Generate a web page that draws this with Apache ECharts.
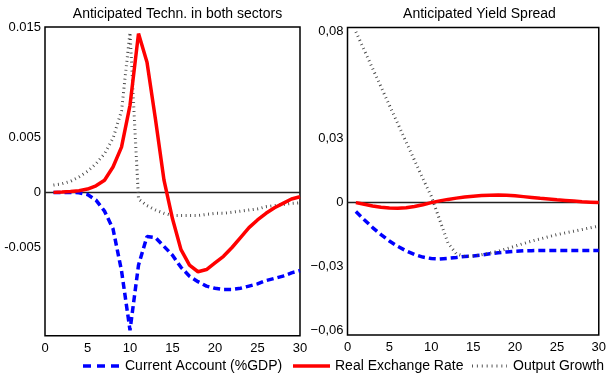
<!DOCTYPE html>
<html>
<head>
<meta charset="utf-8">
<script src="https://cdn.jsdelivr.net/npm/echarts@6/dist/echarts.min.js"></script>
<style>
  html, body { margin: 0; padding: 0; background: #fff; }
  #chart { width: 609px; height: 377px; }
</style>
</head>
<body>
<div id="chart"></div>
<script>
// Horizon (periods after the shock)
const periods = [1, 2, 3, 4, 5, 6, 7, 8, 9, 10, 11, 12, 13, 14, 15, 16, 17, 18, 19, 20, 21, 22, 23, 24, 25, 26, 27, 28, 29, 30];

// Panel 1: anticipated technology shock in both sectors
const techCurrentAccount = [0, 0, 0, -0.00003, -0.0002, -0.0007, -0.0017, -0.0033, -0.0071, -0.0125,
  -0.0066, -0.0040, -0.0041, -0.0049, -0.0057, -0.0068, -0.0076, -0.0081, -0.0085, -0.0087,
  -0.0088, -0.0088, -0.0087, -0.0085, -0.0083, -0.0080, -0.0078, -0.0076, -0.0073, -0.0071];
const techRealExchange = [0, 0.00003, 0.00008, 0.00015, 0.0003, 0.0006, 0.0011, 0.0023, 0.0041, 0.0079,
  0.0144, 0.0118, 0.0066, 0.0011, -0.0024, -0.0052, -0.0066, -0.0072, -0.0070, -0.0064,
  -0.0058, -0.0050, -0.0041, -0.0032, -0.0025, -0.0019, -0.0014, -0.0010, -0.0006, -0.0004];
const techOutputGrowth = [0.00066, 0.00078, 0.0010, 0.0014, 0.0019, 0.0026, 0.0035, 0.0049, 0.0074, 0.0145,
  -0.0006, -0.0012, -0.0016, -0.0019, -0.0021, -0.0021, -0.0021, -0.0021, -0.0020, -0.0019,
  -0.0019, -0.0018, -0.0017, -0.0016, -0.0015, -0.0013, -0.0012, -0.0011, -0.0010, -0.00095];

// Panel 2: anticipated yield spread shock
const spreadCurrentAccount = [-0.0042, -0.0080, -0.0117, -0.0150, -0.0180, -0.0205, -0.0226, -0.0243, -0.0255, -0.0262,
  -0.0264, -0.0261, -0.0257, -0.0252, -0.0250, -0.0246, -0.0240, -0.0235, -0.0231, -0.0228,
  -0.0226, -0.0225, -0.0224, -0.0224, -0.0224, -0.0224, -0.0224, -0.0224, -0.0224, -0.0224];
const spreadRealExchange = [0, -0.0008, -0.0016, -0.0022, -0.0025, -0.0026, -0.0024, -0.0018, -0.0010, 0.0000,
  0.0008, 0.0015, 0.0021, 0.0026, 0.0030, 0.0033, 0.0035, 0.0036, 0.0035, 0.0032,
  0.0028, 0.0024, 0.0020, 0.0017, 0.0013, 0.0010, 0.0007, 0.0004, 0.0002, 0.0000];
const spreadOutputGrowth = [0.0800, 0.0714, 0.0628, 0.0542, 0.0456, 0.0370, 0.0284, 0.0198, 0.0112, 0.0030,
  -0.0080, -0.0190, -0.0240, -0.0252, -0.0250, -0.0244, -0.0236, -0.0228, -0.0216, -0.0204,
  -0.0192, -0.0180, -0.0170, -0.0160, -0.0150, -0.0142, -0.0134, -0.0126, -0.0118, -0.0110];

// Axis ticks and their printed labels
const xTicks = [0, 5, 10, 15, 20, 25, 30];
const leftTickValues = [-0.005, 0, 0.005, 0.015];
const leftTickLabels = ['-0.005', '0', '0.005', '0.015'];
const rightTickValues = [-0.06, -0.03, 0, 0.03, 0.08];
const rightTickLabels = ['\u22120,06', '\u22120,03', '0', '0,03', '0,08'];

const panelTitles = ['Anticipated Techn. in both sectors', 'Anticipated Yield Spread'];
const seriesNames = ['Current Account (%GDP)', 'Real Exchange Rate', 'Output Growth'];

const FONT = '"Liberation Sans", Arial, Helvetica, sans-serif';

function pairs(values) {
  return periods.map((p, i) => [p, values[i]]);
}

function labelFor(values, labels) {
  return function (v) {
    for (let i = 0; i < values.length; i++) {
      if (Math.abs(values[i] - v) < 1e-9) return labels[i];
    }
    return '';
  };
}

// Line looks: dashed blue, solid red, fine dotted grey
const styles = [
  { color: '#0000ff', width: 3.5, type: [7, 4], legendDash: [8, 6] },
  { color: '#ff0000', width: 3.5, type: 'solid', legendDash: null },
  { color: '#444444', width: 3, type: [0.9, 3.6], legendDash: [0.9, 4] }
];

function makeSeries(gridIdx, arrays) {
  return arrays.map((arr, k) => {
    const s = {
      name: seriesNames[k],
      type: 'line',
      xAxisIndex: gridIdx,
      yAxisIndex: gridIdx,
      data: pairs(arr),
      symbol: 'none',
      showSymbol: false,
      z: k === 1 ? 4 : 3,
      lineStyle: { color: styles[k].color, width: styles[k].width, type: styles[k].type, cap: 'butt' },
      itemStyle: { color: styles[k].color }
    };
    if (k === 0) {
      // horizontal zero reference line
      s.markLine = {
        silent: true,
        symbol: 'none',
        label: { show: false },
        lineStyle: { color: '#222', width: 1.3, type: 'solid' },
        data: [{ yAxis: 0 }],
        z: 2
      };
    }
    return s;
  });
}

// Legend drawn below both panels: sample stroke followed by its name
const legendSlots = [
  { x1: 83, x2: 120, tx: 125 },
  { x1: 293, x2: 330, tx: 335 },
  { x1: 472, x2: 507, tx: 513 }
];
const legendY = 366;
const legendGraphics = [];
seriesNames.forEach((name, k) => {
  const st = styles[k];
  legendGraphics.push({
    type: 'line',
    shape: { x1: legendSlots[k].x1, y1: legendY, x2: legendSlots[k].x2, y2: legendY },
    style: {
      stroke: st.color,
      lineWidth: st.width,
      lineDash: st.legendDash,
      lineCap: 'butt'
    },
    silent: true
  });
  legendGraphics.push({
    type: 'text',
    x: legendSlots[k].tx,
    y: legendY,
    style: {
      text: name,
      fill: '#000',
      font: '14px ' + FONT,
      textVerticalAlign: 'middle',
      verticalAlign: 'middle'
    },
    silent: true
  });
});

const chart = echarts.init(document.getElementById('chart'), null, { renderer: 'canvas' });

const xAxisCommon = {
  type: 'value',
  min: 0,
  max: 30,
  interval: 5,
  axisLine: { show: false },
  axisTick: { show: false },
  splitLine: { show: false },
  axisLabel: { color: '#000', fontSize: 13, fontFamily: FONT, margin: 6, customValues: xTicks }
};

chart.setOption({
  animation: false,
  backgroundColor: '#fff',
  title: [
    { text: panelTitles[0], left: 172.5, top: 2, textAlign: 'center',
      textStyle: { fontSize: 14, fontWeight: 'normal', color: '#000', fontFamily: FONT } },
    { text: panelTitles[1], left: 474.5, top: 2, textAlign: 'center',
      textStyle: { fontSize: 14, fontWeight: 'normal', color: '#000', fontFamily: FONT } }
  ],
  grid: [
    { left: 45, top: 27, width: 255, height: 308.7, show: true, borderColor: '#000', borderWidth: 1.5, backgroundColor: 'transparent' },
    { left: 347.5, top: 27.5, width: 254, height: 307.5, show: true, borderColor: '#000', borderWidth: 1.5, backgroundColor: 'transparent' }
  ],
  xAxis: [
    Object.assign({ gridIndex: 0 }, xAxisCommon),
    Object.assign({ gridIndex: 1 }, xAxisCommon)
  ],
  yAxis: [
    {
      gridIndex: 0, type: 'value', min: -0.013, max: 0.015,
      axisLine: { show: false }, axisTick: { show: false }, splitLine: { show: false },
      axisLabel: { color: '#000', fontSize: 13, fontFamily: FONT, margin: 4,
        customValues: leftTickValues, formatter: labelFor(leftTickValues, leftTickLabels) }
    },
    {
      gridIndex: 1, type: 'value', min: -0.062, max: 0.082,
      axisLine: { show: false }, axisTick: { show: false }, splitLine: { show: false },
      axisLabel: { color: '#000', fontSize: 13, fontFamily: FONT, margin: 4,
        customValues: rightTickValues, formatter: labelFor(rightTickValues, rightTickLabels) }
    }
  ],
  graphic: legendGraphics,
  series: [].concat(
    makeSeries(0, [techCurrentAccount, techRealExchange, techOutputGrowth]),
    makeSeries(1, [spreadCurrentAccount, spreadRealExchange, spreadOutputGrowth])
  )
});
</script>
</body>
</html>
